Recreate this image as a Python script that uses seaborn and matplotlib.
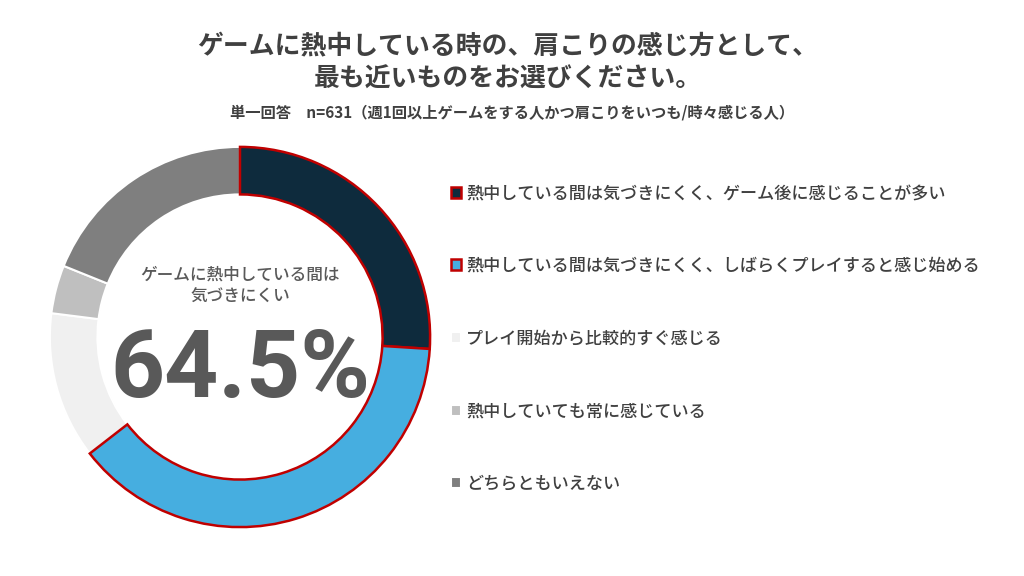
import matplotlib
matplotlib.use("Agg")
import matplotlib.pyplot as plt
import seaborn as sns

# --- data ---
labels = [
    "熱中している間は気づきにくく、ゲーム後に感じることが多い",
    "熱中している間は気づきにくく、しばらくプレイすると感じ始める",
    "プレイ開始から比較的すぐ感じる",
    "熱中していても常に感じている",
    "どちらともいえない",
]
shares = [26.0, 38.5, 12.5, 4.1, 18.9]
colors = ["#0e2b3d", "#46aee0", "#f0f0f0", "#bfbfbf", "#7f7f7f"]
highlight = [True, True, False, False, False]

title = "ゲームに熱中している時の、肩こりの感じ方として、\n最も近いものをお選びください。"
subtitle = "単一回答　n=631（週1回以上ゲームをする人かつ肩こりをいつも/時々感じる人）"
center_label = "ゲームに熱中している間は\n気づきにくい"
center_value = sum(s for s, h in zip(shares, highlight) if h)

sns.set_theme(style="white")
plt.rcParams["font.family"] = ["Noto Sans CJK JP", "DejaVu Sans"]

fig = plt.figure(figsize=(10.24, 5.76), dpi=100)
fig.patch.set_facecolor("white")

# pie axes: centre ~ (240, 337) px, radius ~192 px
ax = fig.add_axes([(240 - 192) / 1024, (576 - 337 - 192) / 576, 384 / 1024, 384 / 576])
wedges, _ = ax.pie(
    shares, colors=colors, startangle=90, counterclock=False, radius=1.0,
    wedgeprops=dict(width=0.25, edgecolor="white", linewidth=1.5),
)
for w, h in zip(wedges, highlight):
    if h:
        w.set_edgecolor("#c00000")
        w.set_linewidth(1.8)
        w.set_zorder(3)
ax.set_xlim(-1.01, 1.01)
ax.set_ylim(-1.01, 1.01)
ax.set_aspect("equal")
ax.axis("off")

ax.text(0, 0.27, center_label, ha="center", va="center", fontsize=12,
        fontweight="medium", color="#595959", linespacing=1.3)
ax.text(0, -0.18, f"{center_value:.1f}%", ha="center", va="center", fontsize=68,
        fontweight="bold", color="#595959", family=["Roboto", "DejaVu Sans"])

# titles
fig.text(0.496, 0.892, title, ha="center", va="center", fontsize=18.6,
         fontweight="bold", color="#404040", linespacing=1.3)
fig.text(0.5, 0.805, subtitle, ha="center", va="center", fontsize=11,
         fontweight="bold", color="#404040")

leg = fig.legend(
    wedges, labels, loc="upper left", bbox_to_anchor=(0.4255, 0.707),
    frameon=False, fontsize=12.3, handlelength=0.6, handleheight=0.6,
    handletextpad=0.3, labelspacing=3.2,
)
for t in leg.get_texts():
    t.set_color("#404040")
    t.set_fontweight("medium")

fig.savefig("out.png", dpi=100, facecolor="white")
